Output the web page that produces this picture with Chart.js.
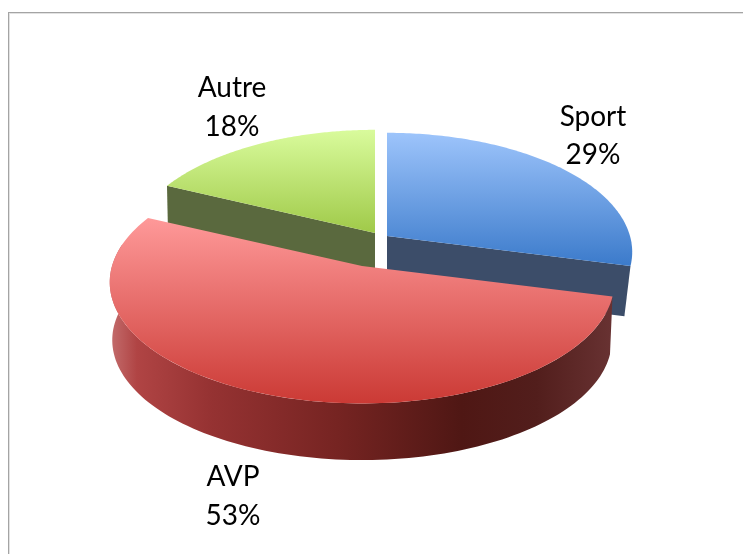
<!DOCTYPE html>
<html><head><meta charset="utf-8">
<style>html,body{margin:0;padding:0;background:#fff}#w{position:relative;width:743px;height:554px}</style>
<script src="https://cdn.jsdelivr.net/npm/chart.js@4"></script></head>
<body><div id="w"><canvas id="c" width="743" height="554"></canvas></div>
<script>
const categories = ['Sport', 'AVP', 'Autre'];
const shares = [29, 53, 18];
const sliceColours = ['#5f97e0', '#e06060', '#bcdf70'];

// layout of the tilted pie
const tilt = { p: 0.134 };
const slicePose = [
  { cx: 387, cy: 236, A: 243, B: 117, dy: 51, s: 0.975 },
  { cx: 362, cy: 266, A: 250, B: 119, dy: 58, s: 0.99 },
  { cx: 375, cy: 233, A: 243, B: 117, dy: 48, s: 0.995 }
];
const topGrad = [
  [133, '#9dc4fb', 265, '#3c7bcb'],
  [216, '#ff9a9a', 403, '#cb3a35'],
  [130, '#d9fb9c', 234, '#9fc948']
];
const wallColours = ['#3c4d69', null, '#5a693e'];
const labelPos = [[593, 117, 155], [233, 477, 516], [232, 88, 127]];

function proj(pose, th, bottom) {
  const u = Math.cos(th), v = Math.sin(th); // th: canvas angle from +x clockwise
  const w = 1 - tilt.p * v, s = bottom ? pose.s : 1;
  return [pose.cx + s * pose.A * u / w, pose.cy + (bottom ? pose.dy : 0) + s * pose.B * v / w];
}
function rim(ctx, pose, a0, a1, bottom, move) {
  const n = 120;
  for (let i = 0; i <= n; i++) {
    const p = proj(pose, a0 + (a1 - a0) * i / n, bottom);
    if (i === 0 && move) ctx.moveTo(p[0], p[1]); else ctx.lineTo(p[0], p[1]);
  }
}
function radialWall(ctx, pose, a, colour) {
  const e = proj(pose, a, false), eb = proj(pose, a, true);
  ctx.beginPath();
  ctx.moveTo(pose.cx, pose.cy);
  ctx.lineTo(e[0], e[1]);
  ctx.lineTo(eb[0], eb[1]);
  ctx.lineTo(pose.cx, pose.cy + pose.dy);
  ctx.closePath();
  ctx.fillStyle = colour;
  ctx.fill();
}
function topFace(ctx, pose, el, g) {
  const gr = ctx.createLinearGradient(0, g[0], 0, g[2]);
  gr.addColorStop(0, g[1]); gr.addColorStop(1, g[3]);
  ctx.beginPath();
  ctx.moveTo(pose.cx, pose.cy);
  rim(ctx, pose, el.startAngle, el.endAngle, false, false);
  ctx.closePath();
  ctx.fillStyle = gr;
  ctx.fill();
}
function outerWall(ctx, pose, a0, a1, stops) {
  const gr = ctx.createLinearGradient(112, 0, 612, 0);
  stops.forEach(s => gr.addColorStop(s[0], s[1]));
  ctx.beginPath();
  rim(ctx, pose, a0, a1, false, true);
  rim(ctx, pose, a1, a0, true, false);
  ctx.closePath();
  ctx.fillStyle = gr;
  ctx.fill();
}
const tiltedPie = {
  id: 'tiltedPie',
  beforeDatasetsDraw(chart) {
    const ctx = chart.ctx, arcs = chart.getDatasetMeta(0).data;
    ctx.save();
    // chart frame: only the top and left edges fall inside the picture
    ctx.fillStyle = '#a4a4a4';
    ctx.fillRect(8, 12, 735, 1);
    ctx.fillRect(8, 12, 1, 542);
    ctx.fillStyle = '#e2e2e2';
    ctx.fillRect(9, 13, 734, 1);
    ctx.fillRect(9, 13, 1, 541);
    const [sport, avp, autre] = arcs;
    radialWall(ctx, slicePose[0], sport.endAngle, wallColours[0]);
    radialWall(ctx, slicePose[2], autre.startAngle, wallColours[2]);
    topFace(ctx, slicePose[0], sport, topGrad[0]);
    topFace(ctx, slicePose[2], autre, topGrad[2]);
    outerWall(ctx, slicePose[1], Math.max(avp.startAngle, 0), Math.PI * 1.06, [
      [0, '#c26a6a'], [0.05, '#b04444'], [0.2, '#953232'], [0.45, '#762422'],
      [0.7, '#4f1714'], [0.85, '#521e1c'], [1, '#683232']]);
    topFace(ctx, slicePose[1], avp, topGrad[1]);
    // labels
    ctx.fillStyle = '#000';
    ctx.font = '28px Lato, "Open Sans", sans-serif';
    ctx.textAlign = 'center'; ctx.textBaseline = 'middle';
    categories.forEach((c, i) => {
      ctx.fillText(c, labelPos[i][0], labelPos[i][1]);
      ctx.fillText(shares[i] + '%', labelPos[i][0], labelPos[i][2]);
    });
    ctx.restore();
    return false;
  }
};
new Chart(document.getElementById('c'), {
  type: 'pie',
  data: { labels: categories, datasets: [{ data: shares, backgroundColor: sliceColours, borderWidth: 0 }] },
  options: {
    responsive: false, animation: false,
    plugins: { legend: { display: false }, tooltip: { enabled: false } }
  },
  plugins: [tiltedPie]
});
</script></body></html>
